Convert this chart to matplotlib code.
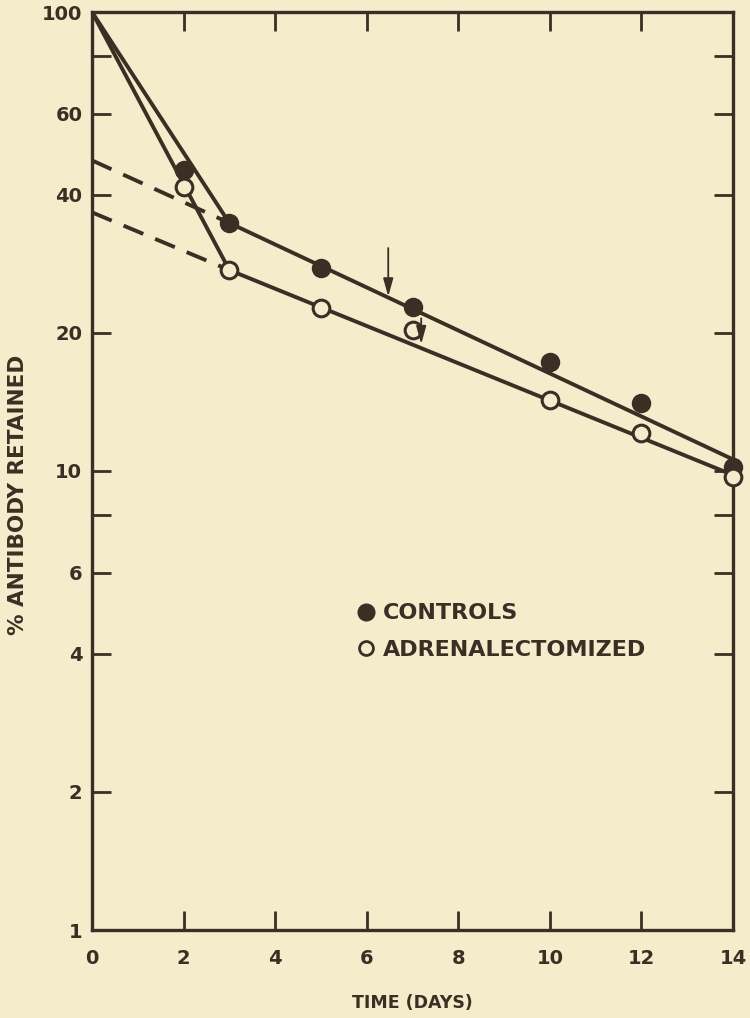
import matplotlib
matplotlib.use("Agg")
import matplotlib.pyplot as plt
from matplotlib.lines import Line2D

# ---- data ----
days = [0, 2, 3, 5, 7, 10, 12, 14]
controls = [100, 45.3, 34.7, 27.7, 22.8, 17.3, 14.1, 10.2]
adrenal = [100, 41.6, 27.4, 22.7, 20.3, 14.3, 12.1, 9.7]

ctrl_line_x = [0, 3, 14]
ctrl_line_y = [100, 34.7, 10.6]
adr_line_x = [0, 3, 14]
adr_line_y = [100, 27.4, 9.8]

ctrl_dash_x = [0, 3]
ctrl_dash_y = [47.5, 34.7]
adr_dash_x = [0, 3]
adr_dash_y = [36.6, 27.4]

arrow1_x, arrow1_from, arrow1_to = 6.47, 30.6, 24.0
arrow2_x, arrow2_from, arrow2_to = 7.19, 21.5, 18.9

xticks = [0, 2, 4, 6, 8, 10, 12, 14]
yticks = [1, 2, 4, 6, 8, 10, 20, 40, 60, 80, 100]
ytick_labels = ["1", "2", "4", "6", "", "10", "20", "40", "60", "", "100"]

bg = "#F4ECCA"
ink = "#3A2F24"

plt.rcParams['font.family'] = ['DejaVu Sans']

fig = plt.figure(figsize=(7.5, 10.18), dpi=100, facecolor=bg)
ax = fig.add_axes([92/750, 88/1018, (733-92)/750, (930-12)/1018])
ax.set_facecolor(bg)
ax.set_yscale('log')
ax.set_xlim(0, 14)
ax.set_ylim(1, 100)

# lines
ax.plot(ctrl_line_x, ctrl_line_y, color=ink, lw=2.8, solid_capstyle='round', zorder=2)
ax.plot(adr_line_x, adr_line_y, color=ink, lw=2.8, solid_capstyle='round', zorder=2)
ax.plot(ctrl_dash_x, ctrl_dash_y, color=ink, lw=2.8, dashes=(5.5, 3.3), zorder=2)
ax.plot(adr_dash_x, adr_dash_y, color=ink, lw=2.8, dashes=(5.5, 3.3), zorder=2)

# points
ax.plot(days[1:], controls[1:], 'o', color=ink, ms=13, zorder=3, clip_on=False)
ax.plot(days[1:], adrenal[1:], 'o', mfc=bg, mec=ink, mew=2.2, ms=12, zorder=3, clip_on=False)

# arrows
for ax_x, y0, y1 in [(arrow1_x, arrow1_from, arrow1_to), (arrow2_x, arrow2_from, arrow2_to)]:
    ax.annotate("", xy=(ax_x, y1), xytext=(ax_x, y0),
                arrowprops=dict(arrowstyle='-|>,head_width=0.25,head_length=0.9',
                                color=ink, lw=1.3,
                                mutation_scale=12, shrinkA=0, shrinkB=0))

# axes styling
for s in ax.spines.values():
    s.set_color(ink)
    s.set_linewidth(2.4)

ax.set_xticks(xticks)
ax.set_xticklabels([str(t) for t in xticks], fontweight='bold')
ax.set_yticks(yticks)
ax.set_yticklabels(ytick_labels, fontweight='bold')
ax.minorticks_off()
ax.tick_params(axis='both', which='major', direction='in', length=14, width=2,
               color=ink, labelcolor=ink, labelsize=14,
               top=True, right=True)
ax.tick_params(axis='x', pad=14)
ax.tick_params(axis='y', pad=7)

ax.set_xlabel("TIME (DAYS)", fontsize=12.5, fontweight='bold', color=ink)
ax.xaxis.set_label_coords(0.5, (930 - 994) / 918)
ax.set_ylabel("% ANTIBODY RETAINED", fontsize=15.5, fontweight='bold', color=ink)
ax.yaxis.set_label_coords((28 - 92) / 641, (930 - 495) / 918)

handles = [
    Line2D([], [], ls='none', marker='o', color=ink, ms=12),
    Line2D([], [], ls='none', marker='o', mfc=bg, mec=ink, mew=2, ms=10),
]
leg = ax.legend(handles, ["CONTROLS", "ADRENALECTOMIZED"], loc='center left',
                bbox_to_anchor=(0.382, 0.325), frameon=False,
                prop={'size': 16, 'weight': 'bold'},
                handlelength=0.8, handletextpad=0.35, labelspacing=0.75,
                labelcolor=ink)

fig.savefig("out.png", dpi=100, facecolor=bg)
